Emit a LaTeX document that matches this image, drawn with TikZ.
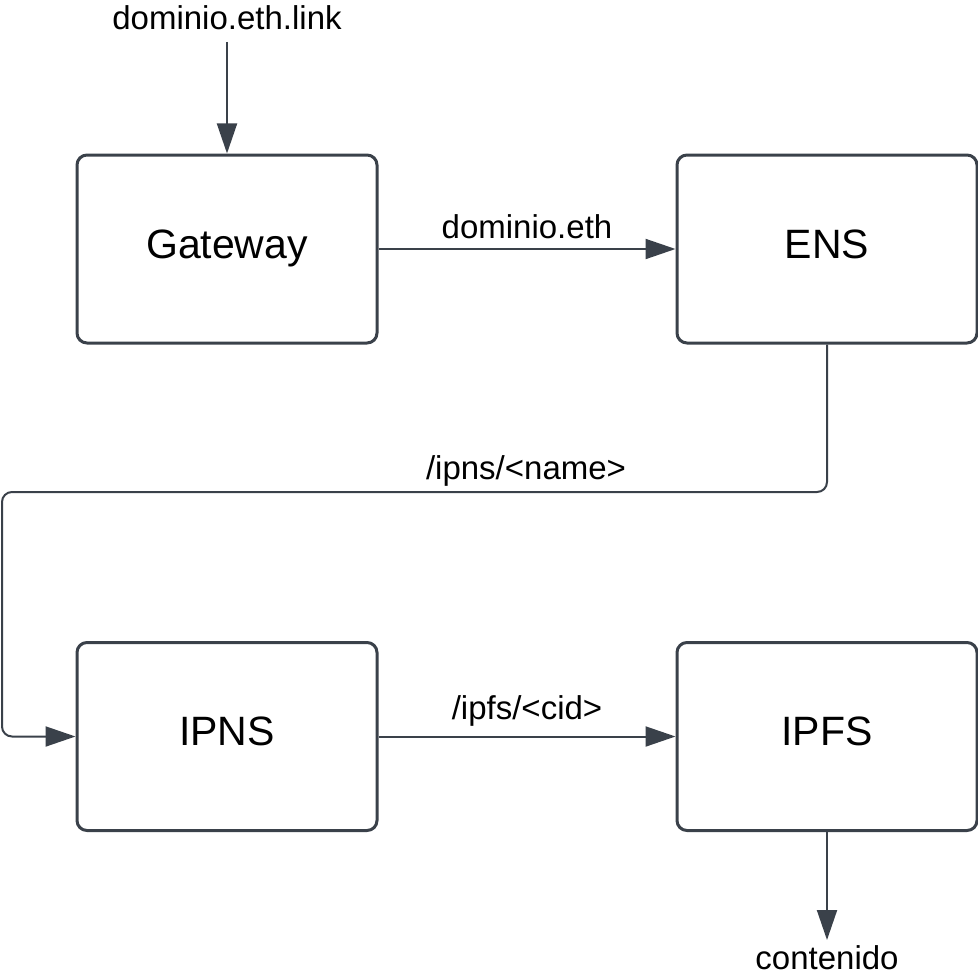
\documentclass[tikz,border=0pt]{standalone}
\usepackage{fontspec}
\setmainfont{Liberation Sans}
\usetikzlibrary{arrows.meta}
\definecolor{ink}{HTML}{3A414A}
\tikzset{
  box/.style={draw=ink, line width=3pt, rounded corners=10pt, minimum width=300pt, minimum height=188pt, inner sep=0pt, text height=29pt, text depth=11pt, font=\fontsize{41}{48}\selectfont, text=black},
  conn/.style={draw=ink, line width=2pt, -{Triangle[length=30pt,width=20pt]}},
  lbl/.style={font=\fontsize{33}{40}\selectfont, text=black, inner sep=0pt}
}
\begin{document}
\begin{tikzpicture}[x=1pt,y=-1pt]
\useasboundingbox (0,0) rectangle (977,979);
\node[box] (G) at (227,249) {Gateway};
\node[box] (E) at (827,249) {ENS};
\node[box] (N) at (227,736.5) {IPNS};
\node[box] (F) at (827,736.5) {IPFS};
\node[lbl] (src) at (227,18) {dominio.eth.link};
\node[lbl] (dst) at (827,958) {contenido};
\coordinate (s) at (227,42);
\coordinate (t) at (827,940);
\coordinate (c1) at (2,492);
\draw[conn] (s) -- (G.north);
\draw[conn] (G.east) -- node[lbl, above=9pt] (l1) {dominio.eth} (E.west);
\draw[conn, rounded corners=10pt] (E.south) |- (c1) |- (N.west);
\node[lbl] (l2) at (526,471) {/ipns/<name>};
\draw[conn] (N.east) -- node[lbl, above=9pt] (l3) {/ipfs/<cid>} (F.west);
\draw[conn] (F.south) -- (t);
\end{tikzpicture}
\end{document}
